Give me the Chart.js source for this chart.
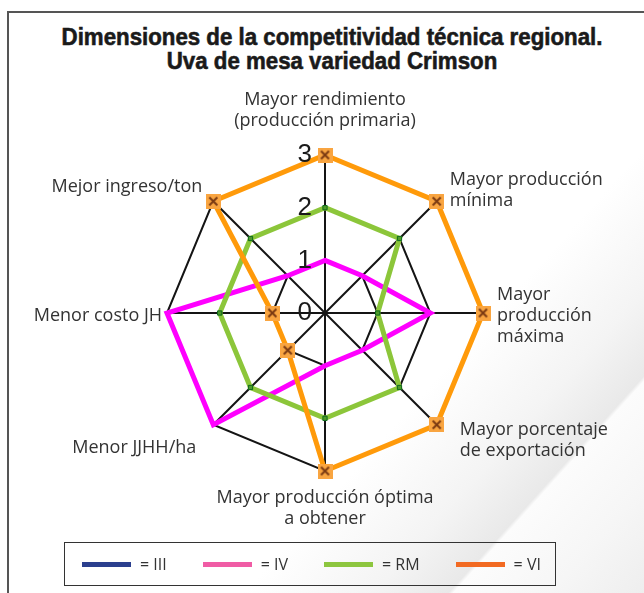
<!DOCTYPE html>
<html>
<head>
<meta charset="utf-8">
<script src="https://cdn.jsdelivr.net/npm/chart.js@4.4.1/dist/chart.umd.min.js"></script>
<style>
  body { margin: 0; background: #fff; }
  #wrap {
    position: relative; width: 644px; height: 593px; overflow: hidden;
    background: linear-gradient(132deg, #fff 0%, #fff 66%, #f4f4f4 77%, #e9e9e9 83.4%, #fcfcfc 83.8%, #f6f6f6 92%, #eeeeee 100%);
  }
  #frame { position: absolute; left: 7px; top: 11px; width: 700px; height: 700px; border: 2px solid #555; }
  #chart { position: absolute; left: 0; top: 0; }
  #title {
    position: absolute; left: 32px; top: 24.5px; width: 600px; text-align: center;
    font: bold 24px/24.5px "Liberation Sans", Arial, sans-serif; color: #1a1a1a;
    -webkit-text-stroke: 0.6px #1a1a1a;
    transform-origin: 50% 0;
  }
  #legend {
    position: absolute; left: 64px; top: 542px; width: 492px; height: 44px;
    box-sizing: border-box; border: 1.5px solid #333; padding-left: 17px;
    display: flex; align-items: center;
    font: 16px "Open Sans", sans-serif; color: #333;
  }
  #legend .item { display: flex; align-items: center; margin-right: 36px; white-space: nowrap; flex-shrink: 0; }
  #legend .sw { width: 49px; height: 5px; margin-right: 9px; flex-shrink: 0; }
</style>
</head>
<body>
<div id="wrap">
  <div id="frame"></div>
  <div id="title"></div>
  <canvas id="chart" width="644" height="593"></canvas>
  <div id="legend"></div>
</div>
<script>
const titleLines = ['Dimensiones de la competitividad técnica regional.', 'Uva de mesa variedad Crimson'];

// axes, clockwise from the top
const categories = [
  ['Mayor rendimiento', '(producción primaria)'],
  ['Mayor producción', 'mínima'],
  ['Mayor', 'producción', 'máxima'],
  ['Mayor porcentaje', 'de exportación'],
  ['Mayor producción óptima', 'a obtener'],
  ['Menor JJHH/ha'],
  ['Menor costo JH'],
  ['Mejor ingreso/ton']
];
const seriesNames = ['III', 'IV', 'RM', 'VI'];
const valuesIII = [null, null, null, null, null, null, null, null];
const valuesIV = [1, 1, 2, 1, 1, 3, 3, 1];
const valuesRM = [2, 2, 1, 2, 2, 2, 2, 2];
const valuesVI = [3, 3, 3, 3, 3, 1, 1, 3];
const tickValues = [0, 1, 2, 3];

const lineColors = ['#2b3f8e', '#ff00ff', '#8cc63a', '#ff9a0a'];
const legendColors = ['#2b3f8e', '#f05ca5', '#8dc63f', '#f26a22'];

// title: condensed bold look, squeezed to the width of the original
const title = document.getElementById('title');
title.innerHTML = titleLines.join('<br>');
{
  const m = document.createElement('canvas').getContext('2d');
  m.font = 'bold 24px "Liberation Sans", Arial, sans-serif';
  const w = m.measureText(titleLines[0]).width;
  title.style.transform = 'scaleX(' + (541 / w).toFixed(3) + ')';
}

// orange square with a brown cross, used as the VI marker
function crossMarker() {
  const c = document.createElement('canvas');
  c.width = 15; c.height = 15;
  const g = c.getContext('2d');
  g.fillStyle = '#f9a541';
  g.fillRect(0, 0, 15, 15);
  g.strokeStyle = '#7b3a12';
  g.lineWidth = 2;
  g.beginPath();
  g.moveTo(3.5, 3.5); g.lineTo(11.5, 11.5);
  g.moveTo(11.5, 3.5); g.lineTo(3.5, 11.5);
  g.stroke();
  return c;
}

// tick numbers sit left of the vertical axis, axis names are placed by hand
const labelOffsets = [
  [0, -45, 'center'], [13, -11, 'left'], [14, 3, 'left'], [23, 16, 'left'],
  [0, 37, 'center'], [-17, 23, 'right'], [-5, 3, 'right'], [-11, -14, 'right']
];

const scaleText = {
  id: 'scaleText',
  afterDatasetsDraw(chart) {
    const r = chart.scales.r;
    const ctx = chart.ctx;
    ctx.save();
    ctx.font = '26px "Liberation Sans", Arial, sans-serif';
    ctx.fillStyle = '#1a1a1a';
    ctx.textAlign = 'right';
    ctx.textBaseline = 'middle';
    tickValues.forEach(v => {
      ctx.fillText(String(v), r.xCenter - 13, r.yCenter - r.getDistanceFromCenterForValue(v));
    });

    ctx.font = '18px "Open Sans", sans-serif';
    ctx.fillStyle = '#333';
    const lh = 21;
    categories.forEach((lines, i) => {
      const p = r.getPointPosition(i, r.drawingArea);
      const [dx, dy, align] = labelOffsets[i];
      ctx.textAlign = align;
      const y0 = p.y + dy - (lines.length - 1) * lh / 2;
      lines.forEach((t, k) => ctx.fillText(t, p.x + dx, y0 + k * lh));
    });
    ctx.restore();
  }
};

const datasets = [
  { label: seriesNames[0], data: valuesIII, borderColor: lineColors[0], borderWidth: 5, pointRadius: 0, order: 3 },
  { label: seriesNames[1], data: valuesIV, borderColor: lineColors[1], borderWidth: 5, pointRadius: 0, order: 2 },
  { label: seriesNames[2], data: valuesRM, borderColor: lineColors[2], borderWidth: 5,
    pointStyle: 'rect', pointRadius: 3, pointBackgroundColor: '#4f9a2a', pointBorderColor: '#0d6a1c', pointBorderWidth: 1, order: 1 },
  { label: seriesNames[3], data: valuesVI, borderColor: lineColors[3], borderWidth: 5,
    pointStyle: crossMarker(), pointRadius: 7, order: 0 }
];
datasets.forEach(d => { d.fill = false; d.clip = false; d.backgroundColor = 'transparent'; });

new Chart(document.getElementById('chart'), {
  type: 'radar',
  data: { labels: categories.map(c => c.join(' ')), datasets },
  options: {
    responsive: false,
    animation: false,
    layout: { padding: { left: 6, right: 0, top: 155, bottom: 122 } },
    elements: { line: { tension: 0 } },
    plugins: {
      legend: { display: false },
      tooltip: { enabled: false }
    },
    scales: {
      r: {
        min: 0, max: 3,
        ticks: { stepSize: 1, display: false },
        grid: { circular: false, color: '#141414', lineWidth: 2 },
        angleLines: { color: '#141414', lineWidth: 2 },
        pointLabels: { display: false }
      }
    }
  },
  plugins: [scaleText]
});

// boxed legend under the chart
const legend = document.getElementById('legend');
seriesNames.forEach((name, i) => {
  const item = document.createElement('div');
  item.className = 'item';
  const sw = document.createElement('span');
  sw.className = 'sw';
  sw.style.background = legendColors[i];
  const txt = document.createElement('span');
  txt.textContent = '= ' + name;
  item.appendChild(sw);
  item.appendChild(txt);
  legend.appendChild(item);
});
</script>
</body>
</html>
